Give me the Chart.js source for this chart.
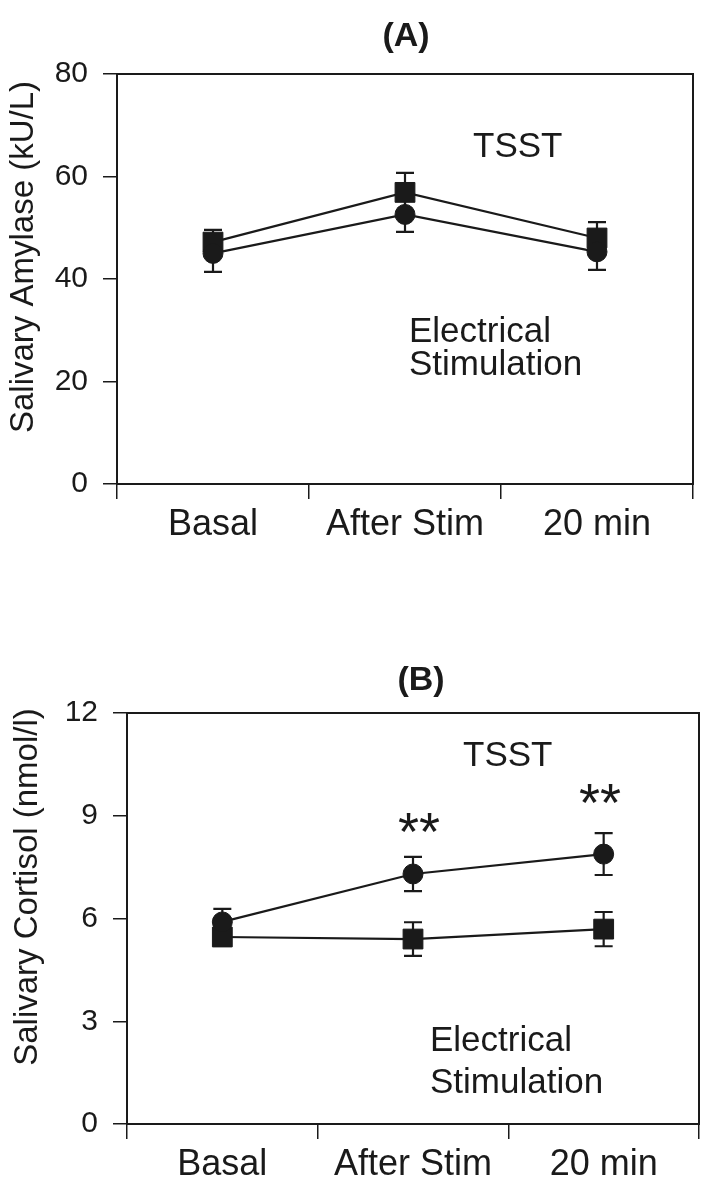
<!DOCTYPE html>
<html>
<head>
<meta charset="utf-8">
<script src="https://cdn.jsdelivr.net/npm/chart.js@4"></script>
<style>
  body { margin: 0; background: #fff; }
  canvas { position: absolute; left: 0; }
</style>
</head>
<body>
<canvas id="chartA" width="714" height="580" style="top:0"></canvas>
<canvas id="chartB" width="714" height="605" style="top:580px"></canvas>
<script>
const timePoints = ["Basal", "After Stim", "20 min"];

// (A) salivary amylase, kU/L
const amylaseTSST = [45.0, 52.6, 45.3];
const amylaseTSSTErr = [3.6, 3.4, 3.5];
const amylaseStim = [47.2, 56.9, 48.0];
const amylaseStimErr = [2.4, 3.8, 3.1];
const amylaseTicks = [0, 20, 40, 60, 80];

// (B) salivary cortisol, nmol/l
const cortisolTSST = [5.9, 7.3, 7.88];
const cortisolTSSTErr = [0.38, 0.5, 0.61];
const cortisolStim = [5.46, 5.4, 5.69];
const cortisolStimErr = [0.25, 0.49, 0.5];
const cortisolTicks = [0, 3, 6, 9, 12];

const ink = "#1a1a1a";
Chart.defaults.font.family = "'Liberation Sans', Arial, sans-serif";
Chart.defaults.color = ink;

const errorBars = {
    id: "errorBars",
    beforeDatasetsDraw(chart) {
        const ctx = chart.ctx;
        const y = chart.scales.y;
        ctx.save();
        ctx.strokeStyle = ink;
        ctx.lineWidth = 2.2;
        chart.data.datasets.forEach((ds, i) => {
            chart.getDatasetMeta(i).data.forEach((pt, j) => {
                const top = y.getPixelForValue(ds.data[j] + ds.errors[j]);
                const bot = y.getPixelForValue(ds.data[j] - ds.errors[j]);
                ctx.beginPath();
                ctx.moveTo(pt.x, top);
                ctx.lineTo(pt.x, bot);
                ctx.moveTo(pt.x - 9, top);
                ctx.lineTo(pt.x + 9, top);
                ctx.moveTo(pt.x - 9, bot);
                ctx.lineTo(pt.x + 9, bot);
                ctx.stroke();
            });
        });
        ctx.restore();
    }
};

// box around the plot + free text (panel letter, axis title, labels)
const notes = {
    id: "notes",
    afterDraw(chart, args, opts) {
        const ctx = chart.ctx;
        const a = chart.chartArea;
        ctx.save();
        ctx.strokeStyle = ink;
        ctx.lineWidth = 2;
        ctx.strokeRect(a.left, a.top, a.right - a.left, a.bottom - a.top);
        ctx.fillStyle = ink;
        ctx.textBaseline = "middle";
        for (const t of opts.items) {
            ctx.save();
            ctx.font = t.font;
            ctx.textAlign = t.align || "left";
            ctx.translate(t.x, t.y);
            if (t.rotate) ctx.rotate(t.rotate);
            ctx.fillText(t.text, 0, 0);
            ctx.restore();
        }
        ctx.restore();
    }
};

function makeChart(id, cfg) {
    const ticks = cfg.ticks;
    return new Chart(document.getElementById(id), {
        type: "line",
        data: {
            labels: timePoints,
            datasets: [
                { label: "TSST", data: cfg.tsst, errors: cfg.tsstErr, pointStyle: "circle", pointRadius: 10 },
                { label: "Electrical Stimulation", data: cfg.stim, errors: cfg.stimErr, pointStyle: "rect", pointRadius: 14 },
            ],
        },
        options: {
            responsive: false,
            animation: false,
            elements: {
                line: { borderColor: ink, borderWidth: 2.2, tension: 0 },
                point: { backgroundColor: ink, borderColor: ink, borderWidth: 1 },
            },
            layout: { padding: cfg.padding },
            plugins: {
                legend: { display: false },
                tooltip: { enabled: false },
                notes: { items: cfg.notes },
            },
            scales: {
                x: {
                    offset: true,
                    afterFit: (s) => { s.height = 60; },
                    grid: { offset: true, drawOnChartArea: false, color: ink, tickLength: 15, lineWidth: 1.5 },
                    border: { color: ink, width: 2 },
                    ticks: { font: { size: 36 }, padding: 4, color: ink },
                },
                y: {
                    min: ticks[0],
                    max: ticks[ticks.length - 1],
                    afterFit: (s) => { s.width = cfg.axisLeft; },
                    grid: { drawOnChartArea: false, color: ink, tickLength: 14, lineWidth: 1.5 },
                    border: { color: ink, width: 2 },
                    ticks: { stepSize: ticks[1] - ticks[0], font: { size: 30 }, padding: 15, color: ink },
                },
            },
        },
        plugins: [errorBars, notes],
    });
}

const letterFont = "bold 34px 'Liberation Sans', Arial, sans-serif";
const titleFont = "33px 'Liberation Sans', Arial, sans-serif";
const noteFont = "35px 'Liberation Sans', Arial, sans-serif";
const starFont = "54px 'Liberation Sans', Arial, sans-serif";

makeChart("chartA", {
    tsst: amylaseTSST, tsstErr: amylaseTSSTErr,
    stim: amylaseStim, stimErr: amylaseStimErr,
    ticks: amylaseTicks,
    axisLeft: 117,
    padding: { top: 74, right: 21, bottom: 36, left: 0 },
    notes: [
        { text: "(A)", x: 406, y: 37, font: letterFont, align: "center" },
        { text: "Salivary Amylase (kU/L)", x: 24, y: 257, font: titleFont, align: "center", rotate: -Math.PI / 2 },
        { text: "TSST", x: 473, y: 147, font: noteFont },
        { text: "Electrical", x: 409, y: 332, font: noteFont },
        { text: "Stimulation", x: 409, y: 365, font: noteFont },
    ],
});

makeChart("chartB", {
    tsst: cortisolTSST, tsstErr: cortisolTSSTErr,
    stim: cortisolStim, stimErr: cortisolStimErr,
    ticks: cortisolTicks,
    axisLeft: 127,
    padding: { top: 133, right: 13, bottom: 1, left: 0 },
    notes: [
        { text: "(B)", x: 421, y: 101, font: letterFont, align: "center" },
        { text: "Salivary Cortisol (nmol/l)", x: 28, y: 307, font: titleFont, align: "center", rotate: -Math.PI / 2 },
        { text: "TSST", x: 463, y: 176, font: noteFont },
        { text: "**", x: 419, y: 255, font: starFont, align: "center" },
        { text: "**", x: 600, y: 226, font: starFont, align: "center" },
        { text: "Electrical", x: 430, y: 461, font: noteFont },
        { text: "Stimulation", x: 430, y: 503, font: noteFont },
    ],
});
</script>
</body>
</html>
